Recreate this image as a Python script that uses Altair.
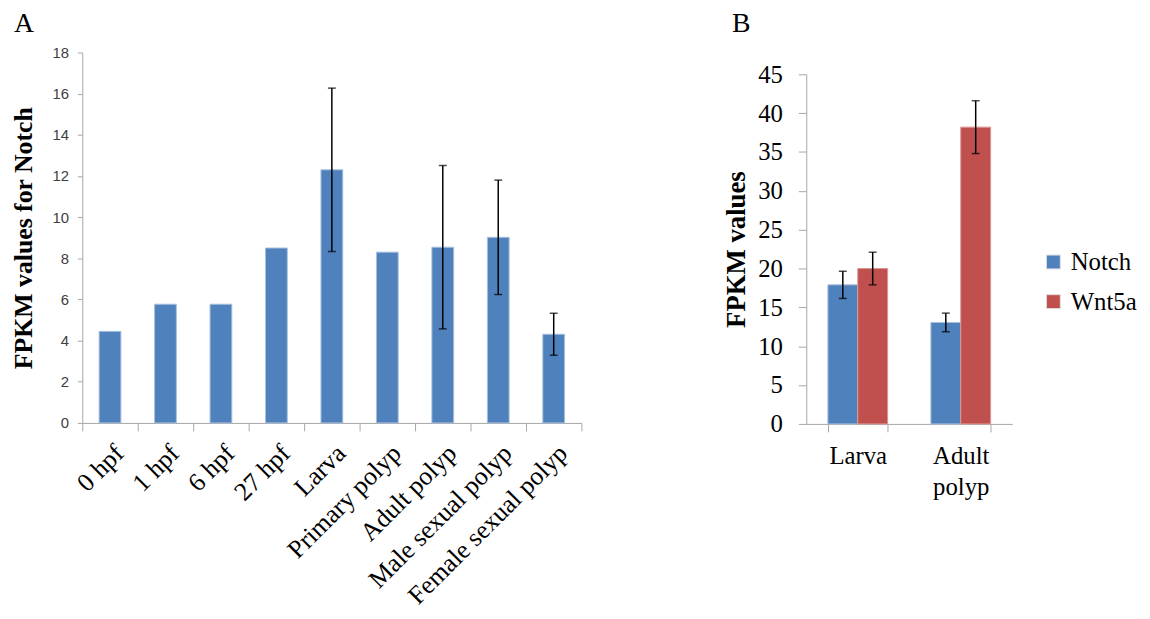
import altair as alt
import pandas as pd

# ---- Panel A data ----
stages = ["0 hpf", "1 hpf", "6 hpf", "27 hpf", "Larva", "Primary polyp",
          "Adult polyp", "Male sexual polyp", "Female sexual polyp"]
notch_fpkm = [4.45, 5.77, 5.77, 8.5, 12.3, 8.3, 8.54, 9.02, 4.31]
notch_err = [None, None, None, None, 3.97, None, 3.97, 2.78, 1.02]
a_ticks = [0, 2, 4, 6, 8, 10, 12, 14, 16, 18]

# ---- Panel B data ----
b_stage_order = ["Larva", "Adult polyp"]
b_stages = ["Larva", "Larva", "Adult polyp", "Adult polyp"]
b_genes = ["Notch", "Wnt5a", "Notch", "Wnt5a"]
b_values = [17.9, 20.0, 13.06, 38.2]
b_err = [1.75, 2.1, 1.2, 3.4]
b_ticks = [0, 5, 10, 15, 20, 25, 30, 35, 40, 45]

gene_order = ["Notch", "Wnt5a"]
gene_colors = ["#4F81BD", "#C0504D"]
gene_strokes = ["#A9C0DE", "#D99694"]

SERIF = "Liberation Serif"
SANS = "Liberation Sans"
AXIS_GRAY = "#A6A6A6"

dfa = pd.DataFrame({"stage": stages, "fpkm": notch_fpkm, "err": notch_err})
dfa["lo"] = dfa["fpkm"] - dfa["err"]
dfa["hi"] = dfa["fpkm"] + dfa["err"]
dfa_err = dfa.dropna()

xA_scale = alt.Scale(paddingInner=0, paddingOuter=0)
xA_axis = alt.Axis(title=None, labelAngle=-45, labelFont=SERIF, labelFontSize=26,
                   labelColor="black", tickBand="extent", tickSize=8, labelLimit=400,
                   tickColor=AXIS_GRAY, domainColor=AXIS_GRAY, labelPadding=9)
yA_scale = alt.Scale(domain=[0, 18], nice=False)
yA_axis = alt.Axis(values=a_ticks, grid=False, labelFont=SANS, labelFontSize=15,
                   labelColor="#404040", tickSize=5, labelPadding=9, labelOverlap=False,
                   tickColor=AXIS_GRAY, domainColor=AXIS_GRAY,
                   title="FPKM values for Notch", titleFont=SERIF, titleFontSize=26,
                   titleFontWeight="bold", titleColor="black", titlePadding=16)


def xa():
    return alt.X("stage:N", sort=stages, scale=xA_scale, axis=xA_axis)


def ya(field):
    return alt.Y(field, scale=yA_scale, axis=yA_axis)


barsA = alt.Chart(dfa).mark_bar(size=22, color="#4F81BD", stroke="#A9C0DE",
                                strokeWidth=1).encode(x=xa(), y=ya("fpkm:Q"))
ruleA = alt.Chart(dfa_err).mark_rule(color="black", strokeWidth=1.5).encode(
    x=xa(), y=ya("lo:Q"), y2="hi:Q")
capLoA = alt.Chart(dfa_err).mark_tick(color="black", size=8, thickness=1.5).encode(
    x=xa(), y=ya("lo:Q"))
capHiA = alt.Chart(dfa_err).mark_tick(color="black", size=8, thickness=1.5).encode(
    x=xa(), y=ya("hi:Q"))

chartA = alt.layer(barsA, ruleA, capLoA, capHiA).properties(width=504, height=374)

# ---- Panel B ----
dfb = pd.DataFrame({"stage": b_stages, "gene": b_genes, "fpkm": b_values, "err": b_err})
dfb["lo"] = dfb["fpkm"] - dfb["err"]
dfb["hi"] = dfb["fpkm"] + dfb["err"]

xB_scale = alt.Scale(paddingInner=0.42, paddingOuter=0.21)
xB_axis = alt.Axis(title=None, labelAngle=0, labelFont=SERIF, labelFontSize=25,
                   labelColor="black", tickBand="extent", tickSize=8,
                   tickColor=AXIS_GRAY, domainColor=AXIS_GRAY, labelPadding=12,
                   labelLineHeight=31, labelExpr="split(datum.label, ' ')")
yB_scale = alt.Scale(domain=[0, 45], nice=False)
yB_axis = alt.Axis(values=b_ticks, grid=False, labelFont=SERIF, labelFontSize=25,
                   labelColor="black", tickSize=8, labelPadding=16, labelOverlap=False,
                   tickColor=AXIS_GRAY, domainColor=AXIS_GRAY,
                   title="FPKM values", titleFont=SERIF, titleFontSize=27,
                   titleFontWeight="bold", titleColor="black", titlePadding=7)
xoB = alt.XOffset("gene:N", sort=gene_order, scale=alt.Scale(paddingInner=0, paddingOuter=0))


def xb():
    return alt.X("stage:N", sort=b_stage_order, scale=xB_scale, axis=xB_axis)


def yb(field):
    return alt.Y(field, scale=yB_scale, axis=yB_axis)


barsB = alt.Chart(dfb).mark_bar(strokeWidth=1).encode(
    x=xb(), xOffset=xoB, y=yb("fpkm:Q"),
    color=alt.Color("gene:N", sort=gene_order,
                    scale=alt.Scale(domain=gene_order, range=gene_colors),
                    legend=alt.Legend(title=None, orient="none", legendX=237, legendY=177,
                                      symbolType="square", symbolSize=196,
                                      symbolStrokeWidth=1, symbolStrokeColor="#DDDDDD",
                                      labelFont=SERIF, labelFontSize=25, labelColor="black",
                                      labelOffset=5, rowPadding=14, padding=0)),
    stroke=alt.Stroke("gene:N", sort=gene_order,
                      scale=alt.Scale(domain=gene_order, range=gene_strokes), legend=None),
)
ruleB = alt.Chart(dfb).mark_rule(color="black", strokeWidth=1.5).encode(
    x=xb(), xOffset=xoB, y=yb("lo:Q"), y2="hi:Q")
capLoB = alt.Chart(dfb).mark_tick(color="black", size=8, thickness=1.5).encode(
    x=xb(), xOffset=xoB, y=yb("lo:Q"))
capHiB = alt.Chart(dfb).mark_tick(color="black", size=8, thickness=1.5).encode(
    x=xb(), xOffset=xoB, y=yb("hi:Q"))

chartB = alt.layer(barsB, ruleB, capLoB, capHiB).properties(width=208, height=353)


# invisible spacers carrying the panel letters
def spacer(letter, w, h, dx):
    return alt.Chart(pd.DataFrame({"v": [0]})).mark_point(opacity=0).encode(
        x=alt.value(0), y=alt.value(0)
    ).properties(
        width=w, height=h,
        title=alt.TitleParams(letter, anchor="start", frame="group", dx=dx, offset=2,
                              font=SERIF, fontSize=28, fontWeight="normal", color="black"),
    )


panelA = alt.vconcat(spacer("A", 504, 3, -69), chartA, spacing=0)
panelB = alt.vconcat(spacer("B", 208, 20, -75), chartB, spacing=0).resolve_legend(
    color="independent")

chart = alt.hconcat(panelA, panelB, spacing=142).resolve_legend(
    color="independent").configure_view(stroke=None).properties(
    background="white", padding={"top": -1, "left": 2, "right": 5, "bottom": 5})

chart.save("out.html", embed_options={"renderer": "svg", "actions": False})
